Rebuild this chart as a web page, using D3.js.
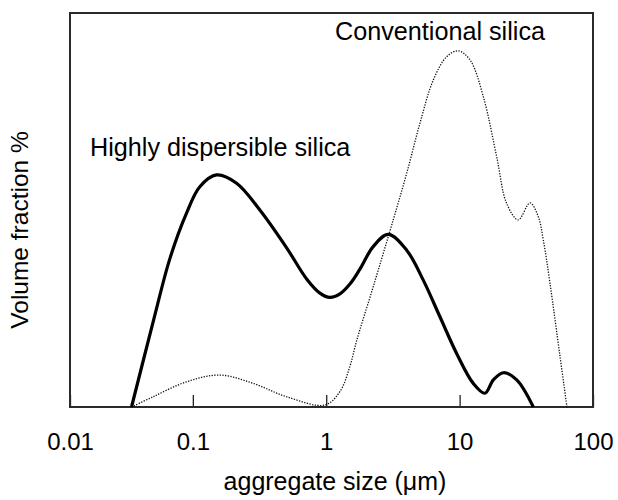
<!DOCTYPE html>
<html>
<head>
<meta charset="utf-8">
<script src="https://cdn.jsdelivr.net/npm/d3@7"></script>
<style>
  html, body { margin: 0; padding: 0; background: #fff; }
  text { font-family: "Liberation Sans", Arial, sans-serif; fill: #000; }
</style>
</head>
<body>
<svg id="chart" width="618" height="500"></svg>
<script>
// ---- data ----
const xTickValues = [0.012, 0.1, 1, 10, 100];
const xTickLabels = ["0.01", "0.1", "1", "10", "100"];

const hdsSize = [0.0347, 0.0504, 0.0672, 0.0897, 0.1128, 0.1507, 0.2128, 0.318, 0.505, 0.713, 0.897, 1.065, 1.266, 1.505, 1.789, 2.25, 2.92, 4.01, 5.34, 7.12, 9.5, 12.66, 15.5, 17.9, 21.3, 26.8, 35.7];
const hdsVol  = [0, 21.6, 37.6, 49.2, 55.9, 58.9, 56.8, 50.0, 40.4, 32.5, 28.9, 27.8, 28.7, 31.2, 35.0, 40.7, 43.8, 39.8, 32.2, 22.9, 13.6, 6.0, 3.5, 6.9, 8.7, 6.9, 0];

const convSize = [0.0347, 0.0504, 0.0897, 0.1594, 0.2834, 0.505, 0.977, 1.266, 1.505, 1.69, 2.25, 3.18, 4.01, 5.04, 6.35, 8.0, 9.77, 11.96, 15.05, 18.97, 22.5, 27.5, 33.7, 38.9, 42.4, 47.6, 56.6, 63.8];
const convVol  = [0, 2.6, 6.4, 8.1, 6.0, 2.6, 0.5, 3.9, 10.3, 16.8, 30.5, 47.5, 59.3, 72.0, 83.0, 88.9, 90.4, 88.1, 78.8, 63.5, 51.7, 47.5, 51.8, 48.3, 42.4, 31.4, 12.8, 0];

const seriesLabels = ["Highly dispersible silica", "Conventional silica"];
const xTitle = "aggregate size (\u03bcm)";
const yTitle = "Volume fraction %";

(function () {
// ---- layout ----
const svg = d3.select("#chart");
const mLeft = 70, mRight = 593, mTop = 13, mBottom = 407;

const x = d3.scaleLog().domain([xTickValues[0], 100]).range([mLeft, mRight]);
const y = d3.scaleLinear().domain([0, 100]).range([mBottom, mTop]);

// ticks (inside, pointing up)
const axis = d3.axisBottom(x)
  .tickValues(xTickValues)
  .tickFormat((d, i) => xTickLabels[i])
  .tickSizeInner(-12)
  .tickSizeOuter(0)
  .tickPadding(0);

const gx = svg.append("g").attr("transform", `translate(0,${mBottom})`).call(axis);
gx.select(".domain").remove();
gx.selectAll(".tick line").attr("stroke", "#222").attr("stroke-width", 1.3);
gx.selectAll(".tick text")
  .attr("y", 43)
  .attr("dy", null)
  .style("font-size", "24px")
  .style("font-family", "'Liberation Sans', Arial, sans-serif")
  .attr("fill", "#000");

// frame
svg.append("rect")
  .attr("x", mLeft).attr("y", mTop)
  .attr("width", mRight - mLeft).attr("height", mBottom - mTop)
  .attr("fill", "none").attr("stroke", "#2a2a2a").attr("stroke-width", 2);

const line = d3.line()
  .x(d => x(d[0]))
  .y(d => y(d[1]))
  .curve(d3.curveCatmullRom.alpha(0.5));

svg.append("path")
  .datum(convSize.map((s, i) => [s, convVol[i]]))
  .attr("d", line)
  .attr("fill", "none")
  .attr("stroke", "#111")
  .attr("stroke-width", 1.3)
  .attr("stroke-dasharray", "1.3,1.4");

svg.append("path")
  .datum(hdsSize.map((s, i) => [s, hdsVol[i]]))
  .attr("d", line)
  .attr("fill", "none")
  .attr("stroke", "#000")
  .attr("stroke-width", 3.2)
  .attr("stroke-linejoin", "round");

// series labels
svg.append("text").attr("x", 90).attr("y", 156)
  .style("font-size", "25.2px").text(seriesLabels[0]);
svg.append("text").attr("x", 335).attr("y", 40)
  .style("font-size", "25.2px").text(seriesLabels[1]);

// axis titles
svg.append("text").attr("x", 335).attr("y", 490)
  .attr("text-anchor", "middle").style("font-size", "25px").text(xTitle);
svg.append("text")
  .attr("transform", "translate(28,230) rotate(-90)")
  .attr("text-anchor", "middle").style("font-size", "24.5px").text(yTitle);
})();
</script>
</body>
</html>
